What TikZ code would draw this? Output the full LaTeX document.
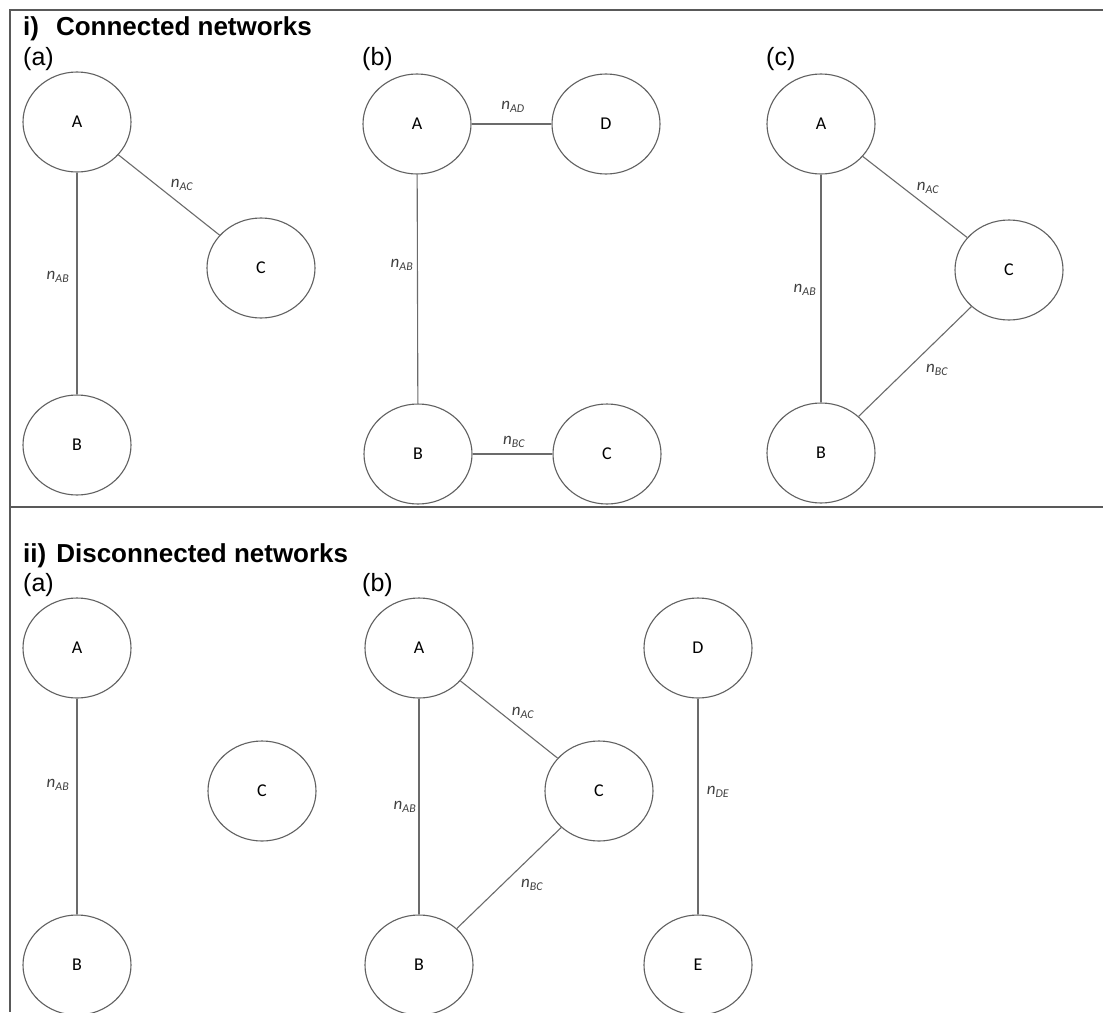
\documentclass[tikz,border=0pt]{standalone}
\usepackage{fontspec}
\setmainfont{Carlito}
\newfontfamily\headfont{Liberation Sans}
\usepackage{tikz}
\usetikzlibrary{shapes.geometric}

\newcommand{\nw}[1]{n\textsubscript{#1}}

\begin{document}
\begin{tikzpicture}[x=1pt,y=-1pt,
	net/.style={ellipse, draw=black!62, line width=1.1pt, minimum width=108pt, minimum height=100pt, inner sep=0pt, font=\fontsize{18}{18}\selectfont},
	link/.style={draw=black!58, line width=1.1pt},
	lbl/.style={inner sep=0pt, text=black!75, font=\fontsize{17}{17}\selectfont\itshape},
	head/.style={anchor=base west, inner sep=0pt, font=\headfont\bfseries\fontsize{26}{26}\selectfont},
	sub/.style={anchor=base west, inner sep=0pt, font=\headfont\fontsize{25}{25}\selectfont}]
	\useasboundingbox (0,0) rectangle (1103,1012);
	\fill[white] (0,0) rectangle (1103,1012);
	\draw[black!65, line width=1.4pt] (1103,10) -- (10,10) -- (10,1012);
	\draw[black!65, line width=1.4pt] (10,507) -- (1103,507);

	\node[head] (hi) at (23,35) {i)\hspace{17pt}Connected networks};
	\node[sub] (sia) at (23,65) {(a)};
	\node[sub] (sib) at (362,65) {(b)};
	\node[sub] (sic) at (766,65) {(c)};

	% (a)
	\node[net] (iaA) at (77,122) {A};
	\node[net] (iaB) at (77,445) {B};
	\node[net] (iaC) at (261,268) {C};
	\draw[link] (iaA) -- (iaB);
	\draw[link] (iaA) -- (iaC);
	\node[lbl] (iaAB) at (58,277) {\nw{AB}};
	\node[lbl] (iaAC) at (182,185) {\nw{AC}};
	% (b)
	\node[net] (ibA) at (417,124) {A};
	\node[net] (ibD) at (606,124) {D};
	\node[net] (ibB) at (418,454) {B};
	\node[net] (ibC) at (607,454) {C};
	\draw[link] (ibA) -- (ibD);
	\draw[link] (ibA) -- (ibB);
	\draw[link] (ibB) -- (ibC);
	\node[lbl] (ibAD) at (513,107) {\nw{AD}};
	\node[lbl] (ibAB) at (402,265) {\nw{AB}};
	\node[lbl] (ibBC) at (514,442) {\nw{BC}};
	% (c)
	\node[net] (icA) at (821,124) {A};
	\node[net] (icC) at (1009,270) {C};
	\node[net] (icB) at (821,453) {B};
	\draw[link] (icA) -- (icB);
	\draw[link] (icA) -- (icC);
	\draw[link] (icB) -- (icC);
	\node[lbl] (icAC) at (928,188) {\nw{AC}};
	\node[lbl] (icAB) at (805,290) {\nw{AB}};
	\node[lbl] (icBC) at (937,370) {\nw{BC}};

	\node[head] (hii) at (23,562) {ii)\hspace{10pt}Disconnected networks};
	\node[sub] (siia) at (23,591) {(a)};
	\node[sub] (siib) at (362,591) {(b)};

	% (a)
	\node[net] (iiaA) at (77,648) {A};
	\node[net] (iiaC) at (262,791) {C};
	\node[net] (iiaB) at (77,965) {B};
	\draw[link] (iiaA) -- (iiaB);
	\node[lbl] (iiaAB) at (58,785) {\nw{AB}};
	% (b)
	\node[net] (iibA) at (419,648) {A};
	\node[net] (iibC) at (599,791) {C};
	\node[net] (iibB) at (419,965) {B};
	\node[net] (iibD) at (698,648) {D};
	\node[net] (iibE) at (698,965) {E};
	\draw[link] (iibA) -- (iibB);
	\draw[link] (iibA) -- (iibC);
	\draw[link] (iibB) -- (iibC);
	\draw[link] (iibD) -- (iibE);
	\node[lbl] (iibAC) at (523,713) {\nw{AC}};
	\node[lbl] (iibAB) at (405,807) {\nw{AB}};
	\node[lbl] (iibBC) at (532,885) {\nw{BC}};
	\node[lbl] (iibDE) at (718,792) {\nw{DE}};
\end{tikzpicture}
\end{document}
